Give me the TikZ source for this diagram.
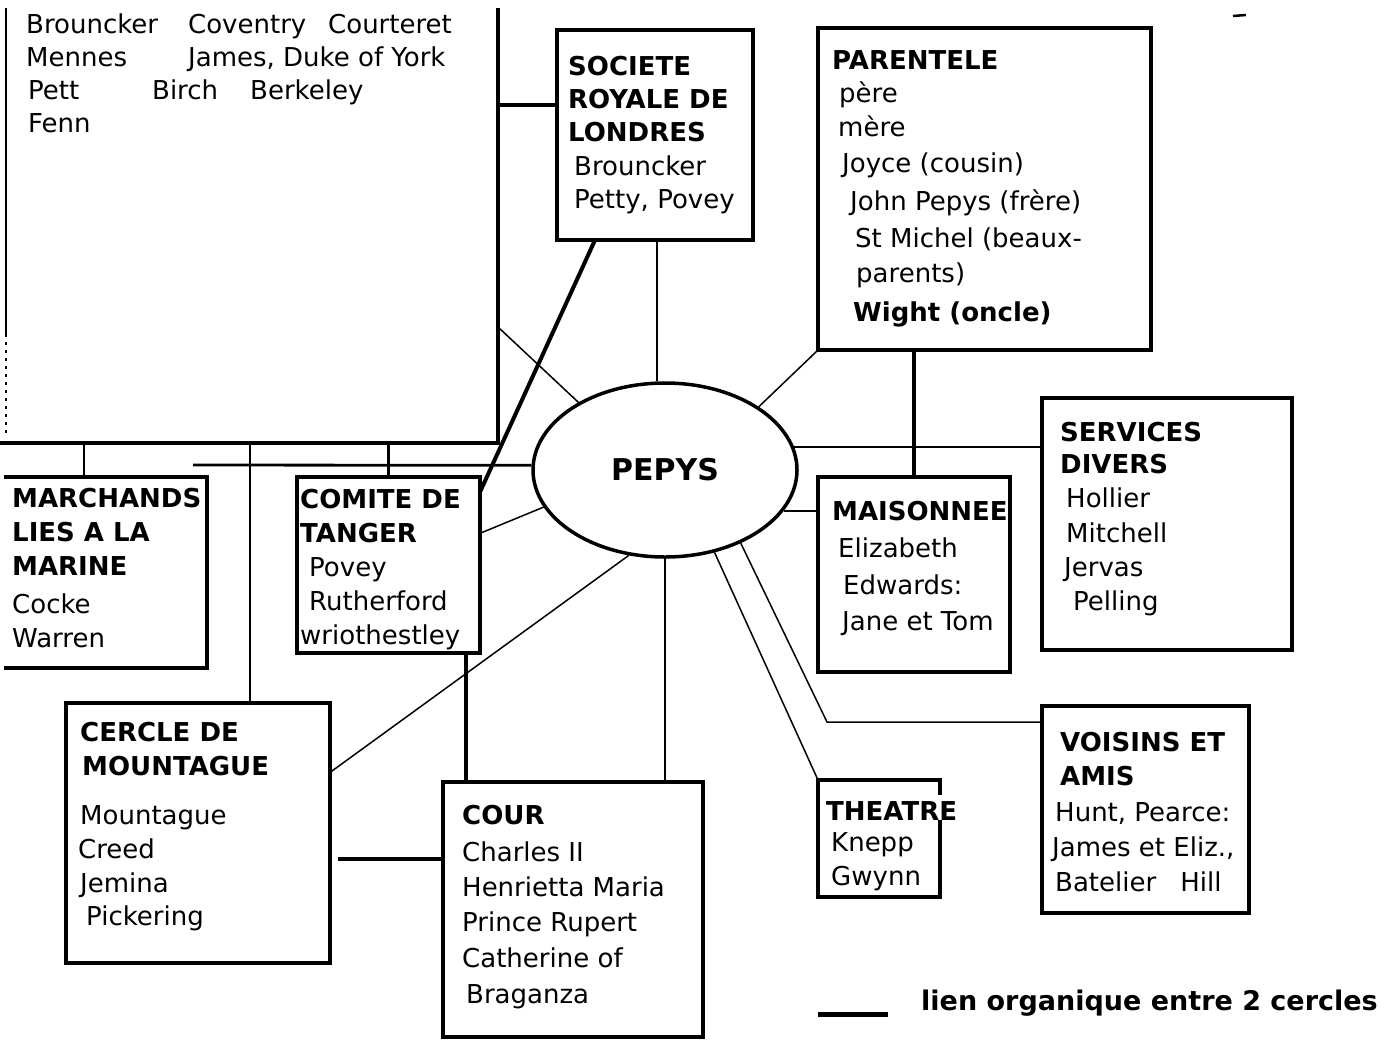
\documentclass[tikz,border=0pt]{standalone}
\usepackage{fontspec}
\setmainfont{DejaVu Sans}
\usetikzlibrary{calc,shapes.geometric}
\newcommand\myStrut{\rule{0pt}{20pt}}
\begin{document}
\begin{tikzpicture}[x=1pt,y=-1pt,
  box/.style={draw, line width=4pt, inner sep=0pt, outer sep=0pt, anchor=north west},
  openbox/.style={draw=none, inner sep=0pt, outer sep=0pt, anchor=north west},
  txt/.style={anchor=north west, inner sep=0pt, align=left, font=\fontsize{26}{34}\selectfont},
  border/.style={line width=4pt},
  thinlink/.style={line width=1.5pt},
  midlink/.style={line width=2.8pt},
  organic/.style={line width=4pt},
]
\fill[white] (0,0) rectangle (1399,1039);
\useasboundingbox (0,0) rectangle (1399,1039);

% ---------- boxes ----------
\node[openbox, minimum width=492, minimum height=435] (navy) at (6,8) {};
\node[box, minimum width=196, minimum height=210] (soc) at (557,30) {};
\node[box, minimum width=333, minimum height=322] (par) at (818,28) {};
\node[box, minimum width=250, minimum height=252] (serv) at (1042,398) {};
\node[box, minimum width=192, minimum height=195] (mais) at (818,477) {};
\node[box, minimum width=207, minimum height=207] (vois) at (1042,706) {};
\node[openbox, minimum width=122, minimum height=117] (theatre) at (818,780) {};
\node[box, minimum width=260, minimum height=255] (cour) at (443,782) {};
\node[box, minimum width=264, minimum height=260] (cercle) at (66,703) {};
\node[box, minimum width=183, minimum height=176] (comite) at (297,477) {};
\node[openbox, minimum width=203, minimum height=191] (march) at (4,477) {};

\node[draw, ellipse, line width=3.5pt, minimum width=264, minimum height=174,
      inner sep=0pt, font=\bfseries\fontsize{30}{30}\selectfont] (pepys) at (665,470) {PEPYS};

% open frame of the navy board
\draw[line width=2pt] (navy.north west) -- ($(navy.north west)!0.75!(navy.south west)$) coordinate (nl);
\draw[line width=1.5pt, dash pattern=on 3pt off 5pt] (nl) -- ($(navy.south west)+(0,-6)$);
\draw[border] (navy.north east) -- (navy.south east) -- ($(navy.south west)+(-6,0)$);

% MARCHANDS box, open on the left
\draw[border] (march.north west) -- (march.north east) -- (march.south east) -- (march.south west);

% THEATRE box, right side broken by its title
\draw[border] ($(theatre.north east)+(0,15)$) -- (theatre.north east) -- (theatre.north west)
  -- (theatre.south west) -- (theatre.south east) -- ($(theatre.north east)+(0,40)$);

% ---------- texts ----------
\node[txt, font=\fontsize{26}{33}\selectfont] (navyT) at (26,13)
 {\myStrut\makebox[162pt][l]{Brouncker}\makebox[140pt][l]{Coventry}Courteret\\
  \makebox[162pt][l]{Mennes}James, Duke of York\\
  \hspace*{2pt}\makebox[124pt][l]{Pett}\makebox[98pt][l]{Birch}Berkeley\\
  \hspace*{2pt}Fenn};

\node[txt, font=\fontsize{26}{33.3}\selectfont] (socT) at (568,55)
 {\myStrut\textbf{SOCIETE}\\\textbf{ROYALE DE}\\\textbf{LONDRES}\\
  \hspace*{6pt}Brouncker\\\hspace*{6pt}Petty, Povey};

\node[txt] (parT) at (832,49)
 {\myStrut\textbf{PARENTELE}\\[-1pt]
  \hspace*{7pt}père\\
  \hspace*{6pt}mère\\[2pt]
  \hspace*{10pt}Joyce (cousin)\\[4pt]
  \hspace*{18pt}John Pepys (frère)\\[3pt]
  \hspace*{23pt}St Michel (beaux-\\[1pt]
  \hspace*{24pt}parents)\\[5pt]
  \hspace*{21pt}\textbf{Wight (oncle)}};

\node[txt] (marchT) at (12,487)
 {\myStrut\textbf{MARCHANDS}\\\textbf{LIES A LA}\\\textbf{MARINE}\\[4pt]Cocke\\Warren};

\node[txt] (comiteT) at (300,488)
 {\myStrut\textbf{COMITE DE}\\\textbf{TANGER}\\\hspace*{9pt}Povey\\
  \hspace*{9pt}Rutherford\\wriothestley};

\node[txt] (cercleT) at (78,721)
 {\myStrut\hspace*{2pt}\textbf{CERCLE DE}\\
  \hspace*{4pt}\textbf{MOUNTAGUE}\\[15pt]
  \hspace*{2pt}Mountague\\
  Creed\\
  \hspace*{2pt}Jemina\\[-1pt]
  \hspace*{8pt}Pickering};

\node[txt, font=\fontsize{26}{35}\selectfont] (courT) at (462,804)
 {\myStrut\textbf{COUR}\\[2pt]Charles II\\Henrietta Maria\\Prince Rupert\\[1pt]
  Catherine of\\[1pt]\hspace*{4pt}Braganza};

\node[txt, font=\fontsize{26}{37}\selectfont] (maisT) at (832,500)
 {\myStrut\textbf{MAISONNEE}\\\hspace*{6pt}Elizabeth\\\hspace*{11pt}Edwards:\\[-1pt]
  \hspace*{10pt}Jane et Tom};

\node[txt] (servT) at (1060,421)
 {\myStrut\textbf{SERVICES}\\[-2pt]\textbf{DIVERS}\\\hspace*{6pt}Hollier\\[1pt]
  \hspace*{6pt}Mitchell\\\hspace*{4pt}Jervas\\\hspace*{13pt}Pelling};

\node[txt, font=\fontsize{26}{35}\selectfont] (voisT) at (1052,731)
 {\myStrut\hspace*{8pt}\textbf{VOISINS ET}\\[-1pt]\hspace*{8pt}\textbf{AMIS}\\[1pt]
  \hspace*{3pt}Hunt, Pearce:\\James et Eliz.,\\\hspace*{3pt}Batelier\hspace{24pt}Hill};

\node[txt, font=\fontsize{26}{33}\selectfont] (theatreT) at (826,800)
 {\myStrut\textbf{THEATRE}\\[-2pt]\hspace*{5pt}Knepp\\[1pt]\hspace*{5pt}Gwynn};

% ---------- links from the navy board ----------
\draw[organic] (navy.north east |- 0,105) -- (soc.west |- 0,105);
\draw[thinlink] (navy.north east |- 0,327) -- (pepys.142);
\draw[midlink] (navy.south -| 84,0) -- (march.north -| 84,0);
\draw[midlink] (navy.south -| 250,0) -- (cercle.north -| 250,0);
\draw[midlink] (comite.north |- navy.south) -- (comite.north);
\coordinate (hl) at (193,465);
\draw[midlink] (hl) -- (pepys.178);

% ---------- links around PEPYS ----------
\draw[organic] ($(soc.south west)!0.194!(soc.south east)$) -- ($(comite.north east)!0.085!(comite.south east)$);
\draw[thinlink] (soc.south -| 657,0) -- (pepys.north -| 657,0);
\draw[thinlink] (par.south west) -- (pepys.34);
\draw[thinlink] (pepys.10) -- (pepys.10 -| serv.west);
\draw[organic] (mais.north |- par.south) -- (mais.north);
\draw[line width=2.2pt] (pepys.341) -- (pepys.341 -| mais.west);
\draw[thinlink] (pepys.197) -- ($(comite.north east)!0.32!(comite.south east)$);
\draw[thinlink] (pepys.247) -- ($(cercle.north east)!0.267!(cercle.south east)$);
\draw[thinlink] (pepys.south) -- (pepys.south |- cour.north);
\coordinate (cb) at ($(comite.south west)!0.923!(comite.south east)$);
\draw[organic] (cb) -- (cb |- cour.north);
\coordinate (cc) at ($(cercle.north east)!0.6!(cercle.south east)$);
\draw[organic] ([xshift=8pt]cc) -- (cc -| cour.west);
\draw[thinlink] (pepys.301) -- (theatre.north west);
\coordinate (vb) at (827,722);
\draw[thinlink] (pepys.316) -- (vb) -- (vb -| vois.west);

% ---------- legend ----------
\coordinate (lg1) at (818,1014);
\coordinate (lg2) at (888,1014);
\draw[line width=5pt] (lg1) -- (lg2);
\node[anchor=base west, inner sep=0pt, font=\bfseries\fontsize{27}{27}\selectfont] (legtxt)
  at (921,1010) {lien organique entre 2 cercles};

% small mark at the top right
\coordinate (d1) at (1233,16);
\coordinate (d2) at (1246,15);
\draw[line width=2.5pt] (d1) -- (d2);
\end{tikzpicture}
\end{document}
